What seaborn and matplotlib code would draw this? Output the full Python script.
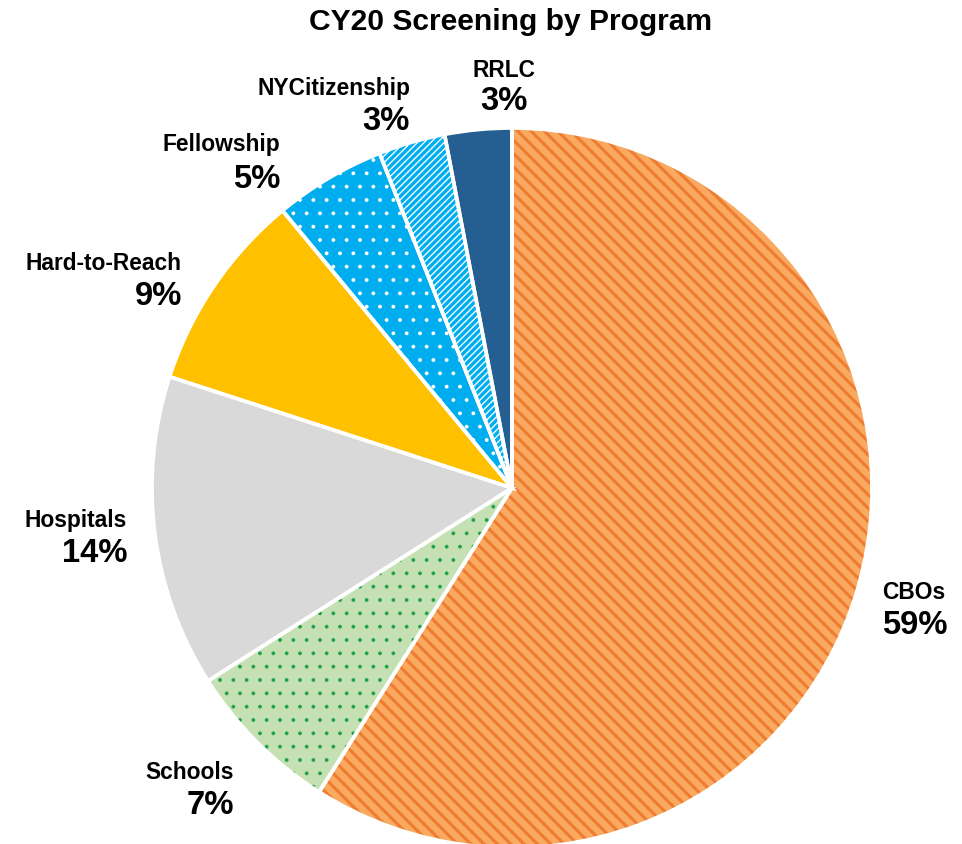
import matplotlib
matplotlib.use("Agg")
import matplotlib.pyplot as plt
import seaborn as sns

# Screening share by program, calendar year 2020 (percent)
programs = ["CBOs", "Schools", "Hospitals", "Hard-to-Reach",
            "Fellowship", "NYCitizenship", "RRLC"]
shares = [59, 7, 14, 9, 5, 3, 3]

# Slice styling: base fill, optional hatch pattern, hatch colour and stroke width
fill_colors = ["#FAA960", "#C5E0B3", "#D9D9D9", "#FFC000",
               "#00AEEF", "#00AEEF", "#255E91"]
hatch_styles = ["\\\\", ".", None, None, ".", "////", None]
hatch_colors = ["#EE7D31", "#1FA34A", None, None, "white", "white", None]
hatch_widths = [2.8, 1.0, 0, 0, 1.0, 1.2, 0]

# Label anchors in pie-radius units: (x, y of name, y of percent, alignment)
label_layout = [
    (1.028, -0.289, -0.381, "left"),
    (-0.772, -0.789, -0.881, "right"),
    (-1.069, -0.089, -0.181, "right"),
    (-0.917, 0.625, 0.533, "right"),
    (-0.644, 0.953, 0.856, "right"),
    (-0.283, 1.111, 1.017, "right"),
    (-0.022, 1.161, 1.075, "center"),
]

sns.set_theme(style="white")
plt.rcParams["font.family"] = ["Liberation Sans", "DejaVu Sans"]

DPI = 80
fig = plt.figure(figsize=(962 / DPI, 844 / DPI), dpi=DPI)
ax = fig.add_axes([152 / 962, -4 / 844, 720 / 962, 720 / 844])

pie_kw = dict(startangle=90, counterclock=False, radius=1.0)

# Base fills
ax.pie(shares, colors=fill_colors,
       wedgeprops=dict(linewidth=0, edgecolor="none"), **pie_kw)

# Pattern overlay
hatch_wedges, _ = ax.pie(shares, colors=["none"] * len(shares),
                         wedgeprops=dict(linewidth=0), **pie_kw)
for w, h, hc, hw in zip(hatch_wedges, hatch_styles, hatch_colors, hatch_widths):
    if h is None:
        w.set_visible(False)
        continue
    w.set_facecolor("none")
    w.set_edgecolor(hc)
    w.set_linewidth(0)
    w.set_hatch(h)
    if hasattr(w, "set_hatch_linewidth"):
        w.set_hatch_linewidth(hw)
    else:
        w._hatch_linewidth = hw

# White separators between slices
ax.pie(shares, colors=["none"] * len(shares),
       wedgeprops=dict(linewidth=3.3, edgecolor="white", facecolor="none"),
       **pie_kw)

ax.set_xlim(-1, 1)
ax.set_ylim(-1, 1)
ax.set_aspect("equal")
ax.axis("off")

for name, value, (x, yn, yp, ha) in zip(programs, shares, label_layout):
    ax.text(x, yn, name, ha=ha, va="center", fontsize=20.5,
            fontweight="bold", color="black", clip_on=False)
    ax.text(x, yp, f"{value}%", ha=ha, va="center", fontsize=29.5,
            fontweight="bold", color="black", clip_on=False)

fig.text(511 / 962, 1 - 22 / 844, "CY20 Screening by Program",
         ha="center", va="center", fontsize=27, fontweight="bold",
         color="black")

fig.savefig("out.png", dpi=DPI, facecolor="white")
